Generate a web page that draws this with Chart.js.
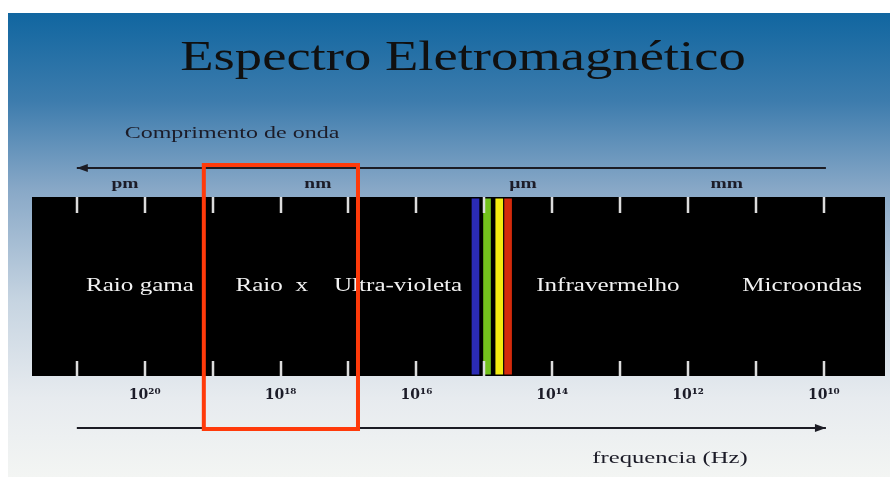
<!DOCTYPE html>
<html>
<head>
<meta charset="utf-8">
<script src="https://cdn.jsdelivr.net/npm/chart.js@4"></script>
<style>
  html, body { margin: 0; padding: 0; background: #fff; }
  #wrap { width: 890px; height: 477px; position: relative; }
</style>
</head>
<body>
<div id="wrap"><canvas id="spectrum"></canvas></div>
<script>
// x axis = log10(frequency in Hz), drawn high → low (left → right)
const decades        = [21, 20, 19, 18, 17, 16, 15, 14, 13, 12, 11, 10];
const freqTickValues = [20, 18, 16, 14, 12, 10];
const freqTickText   = ['10²⁰', '10¹⁸', '10¹⁶', '10¹⁴', '10¹²', '10¹⁰'];

const bandNames   = ['Raio gama', 'Raio  x', 'Ultra-violeta', 'Infravermelho', 'Microondas'];
const bandCenters = [20.07, 18.13, 16.27, 13.18, 10.32];

const unitNames   = ['pm', 'nm', 'µm', 'mm'];
const unitCenters = [20.29, 17.45, 14.43, 11.43];

// visible light stripes
const lightFreqs  = [15.13, 14.96, 14.78, 14.65];
const lightColors = ['#2b2bb5', '#74c21c', '#f4ec10', '#d42a0c'];

const highlightRange = [19.13, 16.86];
const arrowSpan      = [21, 9.97];

// ── helpers ──────────────────────────────────────────────────────────────────
function stretchText(ctx, text, x, y, font, color, sx, align = 'center', base = 'alphabetic') {
  ctx.save();
  ctx.translate(x, y);
  ctx.scale(sx, 1);
  ctx.font = font;
  ctx.fillStyle = color;
  ctx.textAlign = align;
  ctx.textBaseline = base;
  ctx.fillText(text, 0, 0);
  ctx.restore();
}

function arrow(ctx, x0, x1, y, dir) {
  ctx.save();
  ctx.strokeStyle = '#1c1c24';
  ctx.fillStyle = '#1c1c24';
  ctx.lineWidth = 2;
  ctx.beginPath();
  ctx.moveTo(x0, y);
  ctx.lineTo(x1, y);
  ctx.stroke();
  const tip = dir < 0 ? x0 : x1;
  ctx.beginPath();
  ctx.moveTo(tip, y);
  ctx.lineTo(tip - dir * 11, y - 4);
  ctx.lineTo(tip - dir * 11, y + 4);
  ctx.closePath();
  ctx.fill();
  ctx.restore();
}

// ── plugin: background, ticks, labels, arrows ────────────────────────────────
const spectrumPlugin = {
  id: 'spectrum',
  beforeDraw(chart) {
    const { ctx, width, height, chartArea: a } = chart;
    ctx.save();
    ctx.fillStyle = '#fff';
    ctx.fillRect(0, 0, width, height);
    const g = ctx.createLinearGradient(0, 13, 0, height);
    g.addColorStop(0.00, '#1166a0');
    g.addColorStop(0.19, '#3d7cad');
    g.addColorStop(0.38, '#88a8c7');
    g.addColorStop(0.62, '#c6d4e1');
    g.addColorStop(0.83, '#e7ebef');
    g.addColorStop(1.00, '#f3f5f3');
    ctx.fillStyle = g;
    ctx.fillRect(8, 13, width - 8, height - 13);
    ctx.fillStyle = '#000';
    ctx.fillRect(a.left, a.top, a.width, a.height);
    ctx.restore();
  },
  afterDraw(chart) {
    const { ctx, chartArea: a } = chart;
    const xs = chart.scales.x, ys = chart.scales.y;

    // short white tick marks on top and bottom of the band
    ctx.save();
    ctx.strokeStyle = '#dcdcdc';
    ctx.lineWidth = 2.5;
    decades.forEach(v => {
      const px = Math.round(xs.getPixelForValue(v));
      ctx.beginPath();
      ctx.moveTo(px, a.top);
      ctx.lineTo(px, a.top + 16);
      ctx.moveTo(px, a.bottom - 15);
      ctx.lineTo(px, a.bottom);
      ctx.stroke();
    });
    ctx.restore();

    // region names
    bandNames.forEach((n, i) => {
      stretchText(ctx, n, xs.getPixelForValue(bandCenters[i]), ys.getPixelForValue(0.5),
        '19px "Liberation Serif"', '#f2f2f2', 1.32, 'center', 'middle');
    });

    // wavelength units
    unitNames.forEach((n, i) => {
      stretchText(ctx, n, xs.getPixelForValue(unitCenters[i]), 188,
        'bold 15px "Liberation Serif"', '#1c1c28', 1.3);
    });

    // title and axis captions
    stretchText(ctx, 'Espectro Eletromagnético', 463, 70, '42px "Liberation Serif"', '#101010', 1.3);
    stretchText(ctx, 'Comprimento de onda', 232, 138, '16px "Liberation Serif"', '#1c1c28', 1.5);
    stretchText(ctx, 'frequencia (Hz)', 670, 463, '17px "Liberation Serif"', '#1c1c28', 1.45);

    arrow(ctx, xs.getPixelForValue(arrowSpan[0]), xs.getPixelForValue(arrowSpan[1]), 168, -1);
    arrow(ctx, xs.getPixelForValue(arrowSpan[0]), xs.getPixelForValue(arrowSpan[1]), 428, 1);

    // highlight box around the X-ray region
    ctx.save();
    ctx.strokeStyle = '#ff3a0a';
    ctx.lineWidth = 4;
    const l = xs.getPixelForValue(highlightRange[0]);
    const r = xs.getPixelForValue(highlightRange[1]);
    ctx.strokeRect(l, 165, r - l, 264);
    ctx.restore();
  }
};

// ── chart ────────────────────────────────────────────────────────────────────
new Chart(document.getElementById('spectrum').getContext('2d'), {
  type: 'bar',
  data: {
    datasets: [{
      data: lightFreqs.map(f => ({ x: f, y: [0.01, 0.99] })),
      backgroundColor: lightColors,
      borderWidth: 0,
      barThickness: 7,
    }],
  },
  options: {
    animation: false,
    responsive: true,
    maintainAspectRatio: false,
    layout: { padding: { left: 32, right: 5, top: 197, bottom: 0 } },
    scales: {
      x: {
        type: 'linear',
        reverse: true,
        min: 9.1,
        max: 21.66,
        offset: false,
        afterBuildTicks: s => { s.ticks = decades.map(v => ({ value: v })); },
        afterFit: s => { s.height = 101; },
        ticks: {
          autoSkip: false,
          maxRotation: 0,
          padding: 11,
          color: '#1c1c28',
          font: { family: '"DejaVu Serif"', size: 14, weight: 'bold' },
          callback: v => {
            const i = freqTickValues.indexOf(v);
            return i >= 0 ? freqTickText[i] : '';
          },
        },
        grid: { display: false, drawTicks: false },
        border: { display: false },
      },
      y: { display: false, min: 0, max: 1 },
    },
    plugins: { legend: { display: false }, tooltip: { enabled: false } },
  },
  plugins: [spectrumPlugin],
});
</script>
</body>
</html>
